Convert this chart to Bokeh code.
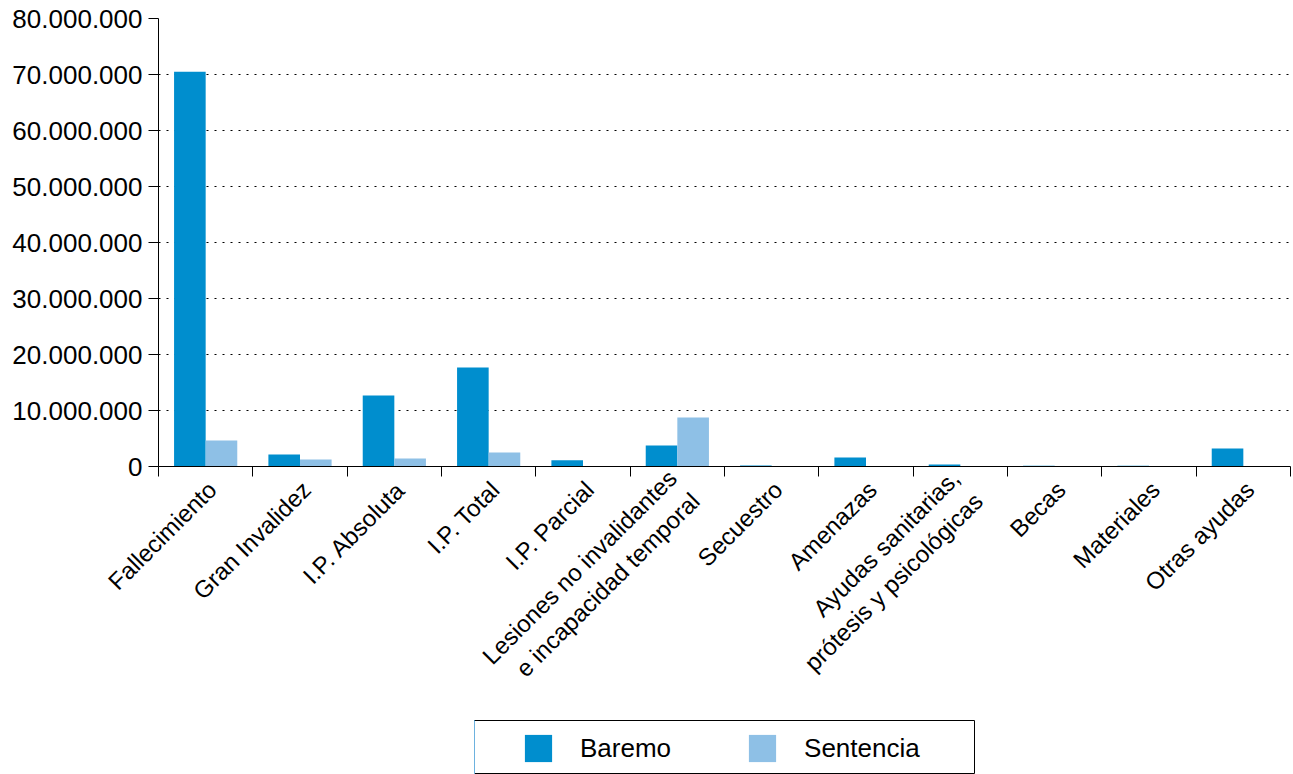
from bokeh.plotting import figure
from bokeh.models import (Range1d, LinearAxis, FixedTicker,
                          CustomJSTickFormatter, ColumnDataSource, Legend, LegendItem, Spacer)
from bokeh.layouts import column, row
from bokeh.transform import dodge
from bokeh.embed import file_html
from bokeh.resources import INLINE
from math import pi

# ---- data ----
categories = [
    "Fallecimiento", "Gran Invalidez", "I.P. Absoluta", "I.P. Total", "I.P. Parcial",
    "Lesiones no invalidantes\ne incapacidad temporal", "Secuestro", "Amenazas",
    "Ayudas sanitarias,\nprótesis y psicológicas", "Becas", "Materiales", "Otras ayudas",
]
baremo = [70_500_000, 2_150_000, 12_700_000, 17_700_000, 1_100_000, 3_750_000,
          200_000, 1_600_000, 360_000, 150_000, 150_000, 3_200_000]
sentencia = [4_650_000, 1_250_000, 1_450_000, 2_500_000, 0, 8_750_000,
             0, 0, 0, 0, 0, 0]
y_ticks = [0, 10_000_000, 20_000_000, 30_000_000, 40_000_000,
           50_000_000, 60_000_000, 70_000_000, 80_000_000]
series_names = ["Baremo", "Sentencia"]
series_colors = ["#008ECE", "#8EC0E6"]

FONT = "Liberation Sans"
n = len(categories)
centers = [i + 0.5 for i in range(n)]

src = ColumnDataSource(dict(pos=centers, cat=categories, baremo=baremo, sentencia=sentencia))

p = figure(
    x_range=Range1d(0, n),
    y_range=Range1d(0, y_ticks[-1]),
    width=1293, height=719,
    output_backend="svg", toolbar_location=None,
    x_axis_location=None,
    min_border_left=158, min_border_right=3, min_border_top=18, min_border_bottom=253,
)
p.outline_line_color = None
p.background_fill_color = "white"
p.border_fill_color = "white"

bw = 0.335
p.vbar(x=dodge("pos", -bw / 2), top="baremo", width=bw, source=src,
       fill_color=series_colors[0], line_color=None)
p.vbar(x=dodge("pos", bw / 2), top="sentencia", width=bw, source=src,
       fill_color=series_colors[1], line_color=None)

# grids
p.xgrid.visible = False
p.ygrid.grid_line_color = "black"
p.ygrid.grid_line_dash = "2 6"
p.ygrid.grid_line_width = 1
p.ygrid.ticker = FixedTicker(ticks=y_ticks)

# y axis
ya = p.yaxis[0]
ya.ticker = FixedTicker(ticks=y_ticks)
ya.formatter = CustomJSTickFormatter(code=r"return tick.toFixed(0).replace(/\B(?=(\d{3})+(?!\d))/g, '.');")
ya.axis_line_color = "black"
ya.major_tick_line_color = "black"
ya.major_tick_out = 10
ya.major_tick_in = 0
ya.minor_tick_line_color = None
ya.major_label_text_font = FONT
ya.major_label_text_font_size = "26px"
ya.major_label_text_color = "black"
ya.major_label_standoff = 6

# x axis: boundary ticks nearest frame
xb = LinearAxis(ticker=FixedTicker(ticks=list(range(n + 1))))
xb.formatter = CustomJSTickFormatter(code="return '';")
xb.major_label_text_font_size = "0px"
xb.major_label_standoff = 0
xb.major_tick_out = 10
xb.major_tick_in = 0
xb.minor_tick_line_color = None
xb.axis_line_color = "black"
xb.major_tick_line_color = "black"
p.add_layout(xb, "below")

# category labels near the centres
label_shift = 0.07
xc = LinearAxis(ticker=FixedTicker(ticks=[c + label_shift for c in centers]))
xc.formatter = CustomJSTickFormatter(args=dict(labels=categories),
                                     code="return labels[Math.floor(tick)];")
xc.axis_line_color = None
xc.major_tick_line_color = None
xc.major_tick_out = 0
xc.major_tick_in = 0
xc.minor_tick_line_color = None
xc.major_label_orientation = pi / 4
xc.major_label_text_font = FONT
xc.major_label_text_font_size = "24px"
xc.major_label_text_color = "black"
xc.major_label_standoff = 9
p.add_layout(xc, "below")

# ---- legend panel ----
leg = figure(width=502, height=55, output_backend="svg", toolbar_location=None,
             x_axis_location=None, y_axis_location=None,
             min_border_left=1, min_border_right=1, min_border_top=1, min_border_bottom=0,
             x_range=Range1d(1000, 1001), y_range=Range1d(0, 1))
leg.outline_line_color = "black"
leg.outline_line_width = 1
leg.background_fill_color = "white"
leg.xgrid.visible = False
leg.ygrid.visible = False
r1 = leg.vbar(x=dodge("pos", -bw / 2), top="baremo", width=bw, source=src,
              fill_color=series_colors[0], line_color=None)
r2 = leg.vbar(x=dodge("pos", bw / 2), top="sentencia", width=bw, source=src,
              fill_color=series_colors[1], line_color=None)
legend = Legend(
    items=[LegendItem(label=series_names[0], renderers=[r1]),
           LegendItem(label=series_names[1], renderers=[r2])],
    orientation="horizontal", location=(47, 9),
    border_line_color=None, background_fill_alpha=0,
    padding=0, margin=0, spacing=74,
    glyph_width=34, glyph_height=34, label_standoff=25,
    label_text_font=FONT, label_text_font_size="26px", label_text_color="black",
)
leg.add_layout(legend, "center")

layout = column(p, row(Spacer(width=473, height=55), leg))

open("out.html", "w").write(file_html(layout, INLINE))
